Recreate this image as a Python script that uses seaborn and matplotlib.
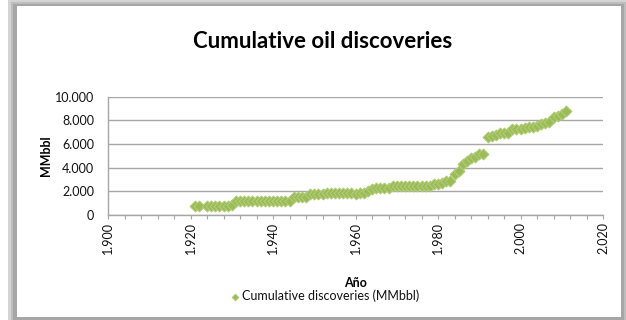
import matplotlib
matplotlib.use("Agg")
import matplotlib.pyplot as plt
from matplotlib.patches import Rectangle
from matplotlib.ticker import FuncFormatter, MultipleLocator
import seaborn as sns
import pandas as pd

# Cumulative discoveries by year (MMbbl)
years = [1921, 1922, 1924, 1925, 1926, 1927, 1928, 1929, 1930,
         1931, 1932, 1933, 1934, 1935, 1936, 1937, 1938, 1939, 1940,
         1941, 1942, 1943, 1944, 1945, 1946, 1947, 1948, 1949, 1950,
         1951, 1952, 1953, 1954, 1955, 1956, 1957, 1958, 1959, 1960,
         1961, 1962, 1963, 1964, 1965, 1966, 1967, 1968, 1969, 1970,
         1971, 1972, 1973, 1974, 1975, 1976, 1977, 1978, 1979, 1980,
         1981, 1982, 1983, 1984, 1985, 1986, 1987, 1988, 1989, 1990,
         1991, 1992, 1993, 1994, 1995, 1996, 1997, 1998, 1999, 2000,
         2001, 2002, 2003, 2004, 2005, 2006, 2007, 2008, 2009, 2010,
         2011]
cumulative = [800, 800, 800, 800, 800, 800, 800, 800, 820,
              1150, 1180, 1180, 1180, 1180, 1180, 1180, 1180, 1180, 1180,
              1180, 1180, 1180, 1180, 1550, 1550, 1560, 1550, 1750, 1750,
              1750, 1750, 1850, 1850, 1850, 1850, 1850, 1850, 1850, 1800,
              1820, 1900, 2000, 2200, 2250, 2250, 2250, 2250, 2480, 2480,
              2480, 2480, 2480, 2480, 2480, 2480, 2480, 2480, 2580, 2620,
              2700, 2850, 2900, 3500, 3700, 4350, 4600, 4800, 4900, 5150,
              5150, 6600, 6650, 6750, 6950, 6950, 6900, 7250, 7300, 7300,
              7350, 7400, 7450, 7550, 7700, 7800, 7850, 8250, 8400, 8550,
              8750]

series_label = "Cumulative discoveries (MMbbl)"
title = "Cumulative oil discoveries"
x_label = "Año"
y_label = "MMbbl"

sns.set_theme(style="white")
plt.rcParams["font.family"] = ["Lato", "DejaVu Sans"]

W, H = 626, 320
fig = plt.figure(figsize=(W / 100, H / 100), dpi=100)
fig.patch.set_facecolor("white")


def px_rect(x0, y0, x1, y1, color):
    # rectangle given in pixel coordinates measured from the top-left corner
    fig.patches.append(Rectangle((x0 / W, 1 - y1 / H), (x1 - x0) / W, (y1 - y0) / H,
                                 transform=fig.transFigure, facecolor=color,
                                 edgecolor="none", zorder=-10))


# framed chart area with a soft shadow
px_rect(8, 0, 626, 320, "#d4d4d4")
px_rect(11, 2, 626, 320, "#bdbdbd")
px_rect(13, 4, 624, 320, "#a6a6a6")
px_rect(17, 6, 621, 317, "white")

ax = fig.add_axes([108 / W, 1 - 215 / H, (603 - 108) / W, (215 - 96.7) / H])
ax.set_facecolor("none")

df = pd.DataFrame({"year": years, "value": cumulative})
green = "#9bbb59"
sns.scatterplot(data=df, x="year", y="value", marker="D", s=30, color=green,
                edgecolor="#afcc74", linewidth=0.8, ax=ax, label=series_label,
                legend=False, zorder=3)

ax.set_xlim(1900, 2020)
ax.set_ylim(0, 10000)
ax.xaxis.set_major_locator(MultipleLocator(20))
ax.xaxis.set_minor_locator(MultipleLocator(4))
ax.yaxis.set_major_locator(MultipleLocator(2000))


def dotted_thousands(v, pos):
    v = int(round(v))
    return f"{v:,}".replace(",", ".")


ax.xaxis.set_major_formatter(FuncFormatter(dotted_thousands))
ax.yaxis.set_major_formatter(FuncFormatter(dotted_thousands))

grid_c = "#a6a6a6"
ax.grid(axis="y", color=grid_c, linewidth=1.0)
ax.grid(axis="x", visible=False)
ax.set_axisbelow(True)
for side in ("top", "right"):
    ax.spines[side].set_visible(False)
for side in ("left", "bottom"):
    ax.spines[side].set_color(grid_c)
    ax.spines[side].set_linewidth(1.0)

ax.tick_params(axis="x", which="both", direction="out", length=3, width=0.8,
               color=grid_c, bottom=True, pad=2, labelsize=9, labelcolor="#111111",
               labelrotation=90)
ax.tick_params(axis="y", length=0, pad=10, labelsize=9, labelcolor="#111111")
for lbl in ax.get_xticklabels():
    lbl.set_verticalalignment("top")
ax.set_xlabel("")
ax.set_ylabel("")

fig.text(323 / W, 1 - 41 / H, title, ha="center", va="center",
         fontsize=16, fontweight="bold", color="#000000")
fig.text(356 / W, 1 - 283 / H, x_label, ha="center", va="center",
         fontsize=9, fontweight="bold", color="#000000")
fig.text(46 / W, 1 - 156 / H, y_label, ha="center", va="center", rotation=90,
         fontsize=9, fontweight="bold", color="#000000")

handles, labels = ax.get_legend_handles_labels()
leg = fig.legend(handles, labels, loc="center", bbox_to_anchor=(324 / W, 1 - 296 / H),
                 frameon=False, fontsize=9, handletextpad=0.1, handlelength=1.0,
                 markerscale=0.6, borderpad=0)
for t in leg.get_texts():
    t.set_color("#111111")

fig.savefig("out.png", dpi=100, facecolor="white")
